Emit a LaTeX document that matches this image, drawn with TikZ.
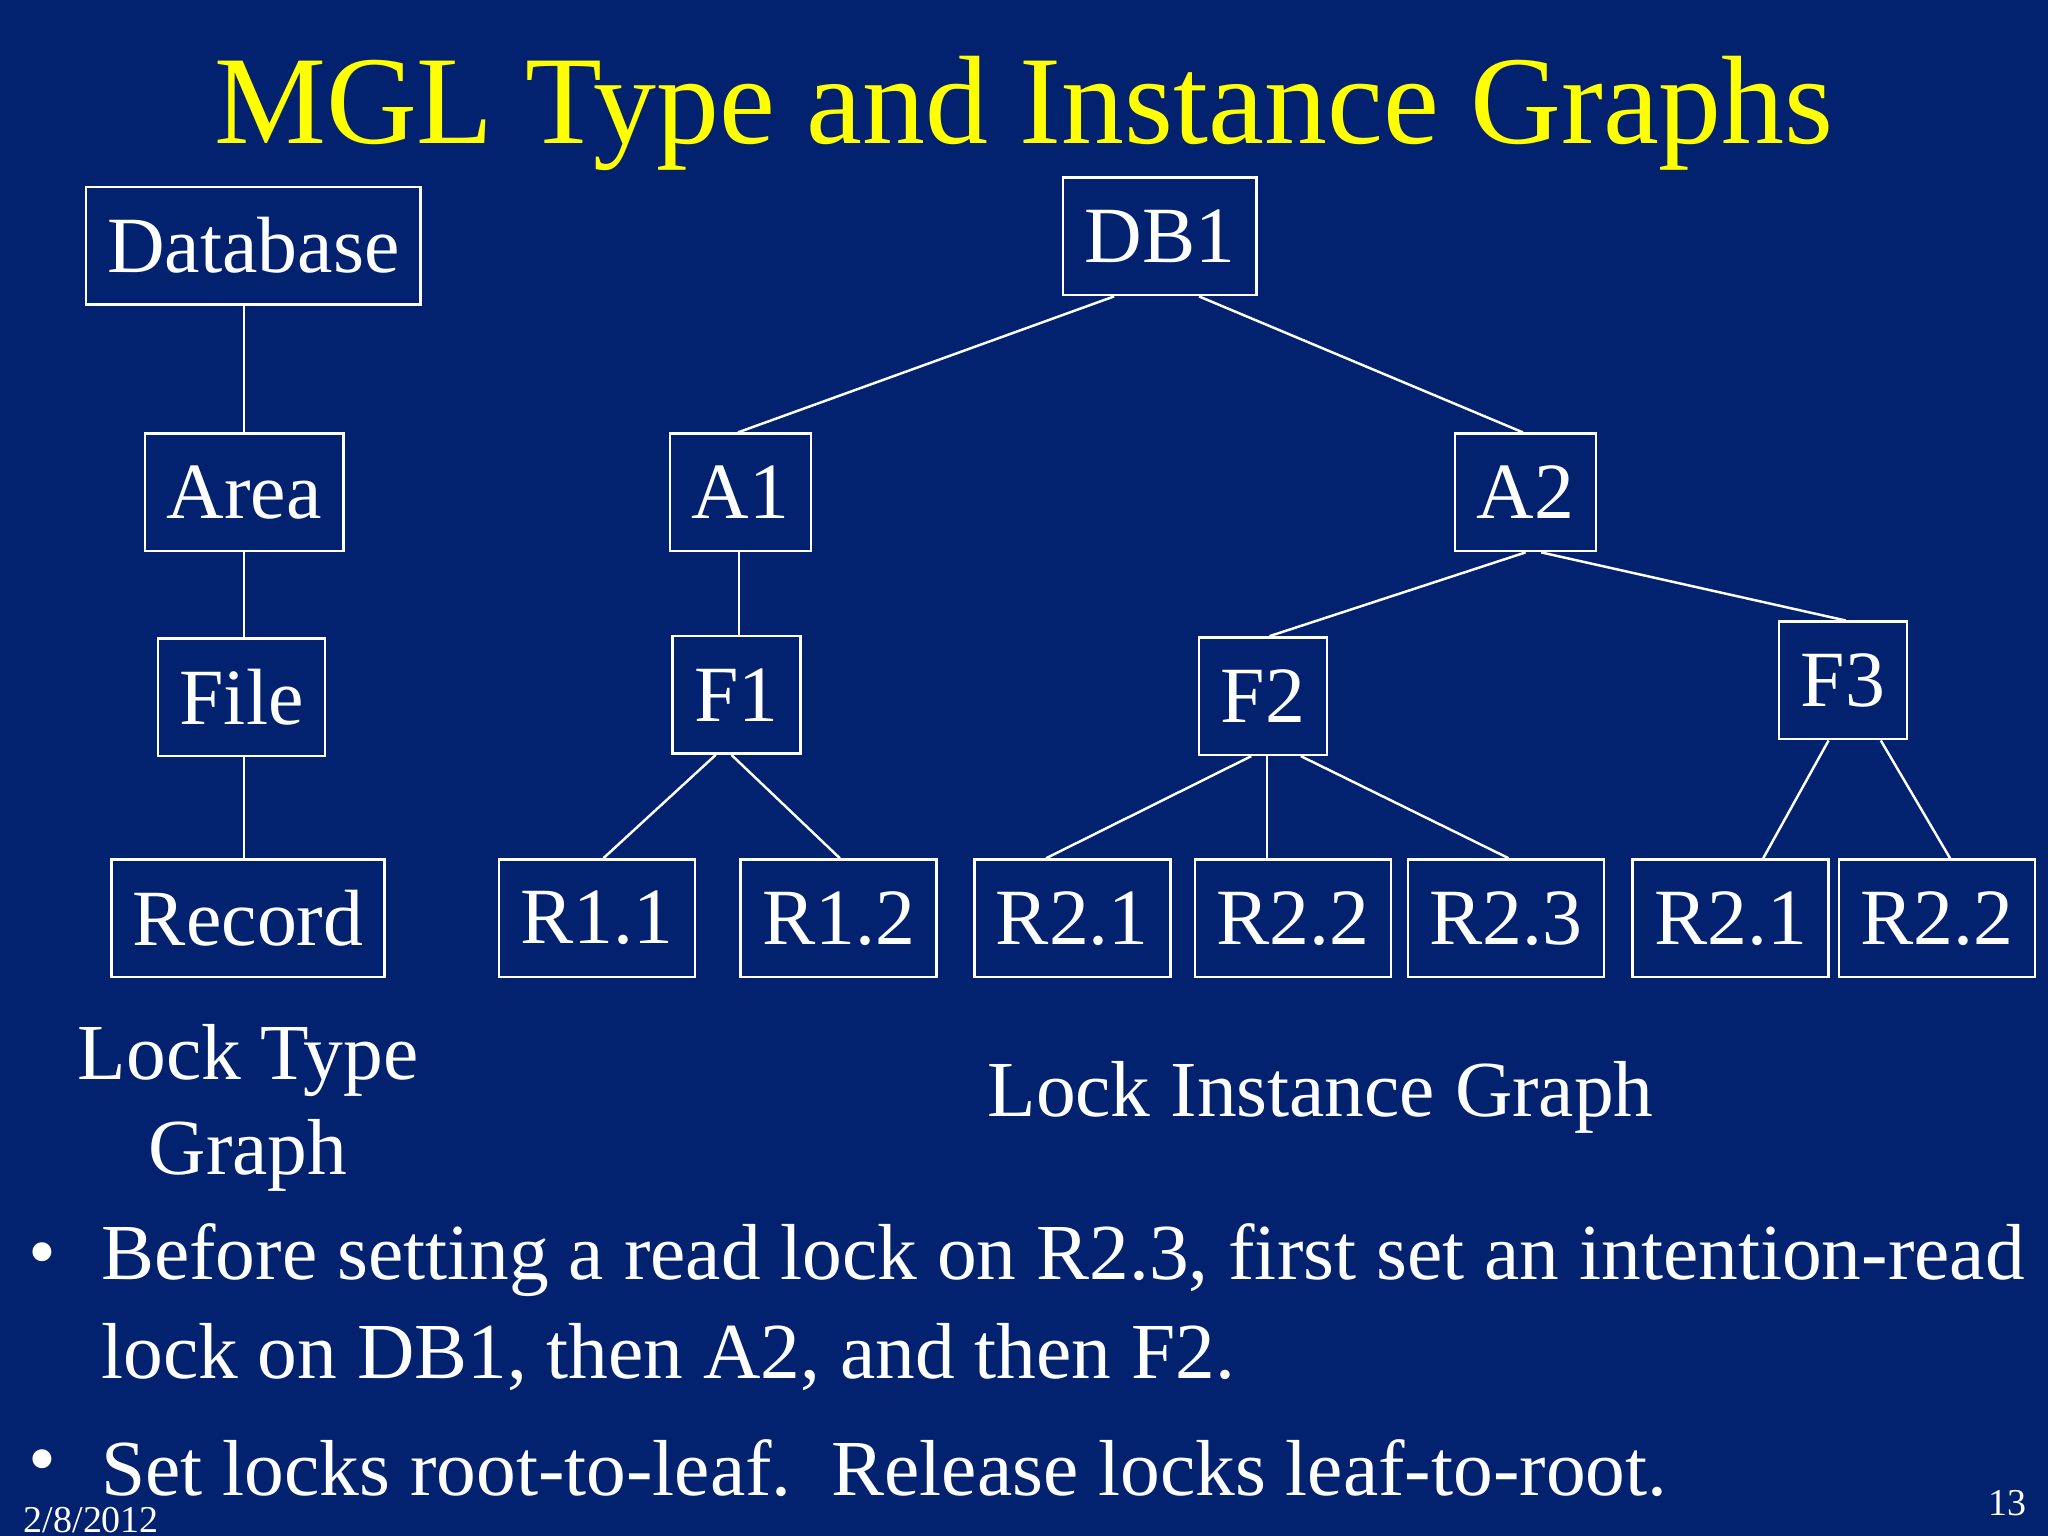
\documentclass[tikz,border=0pt]{standalone}
\usepackage{fontspec}
\setmainfont{Liberation Serif}
\usetikzlibrary{calc}
\definecolor{bg}{RGB}{2,34,112}
\begin{document}
\begin{tikzpicture}[x=0.0130612cm,y=-0.0130612cm,
  box/.style={draw=white,line width=0.7pt,text=white,minimum height=90*0.0130612cm,inner sep=0pt,font=\fontsize{22.7}{27}\selectfont},
  ln/.style={draw=white,line width=0.7pt},
  txt/.style={text=white,font=\fontsize{22.6}{27}\selectfont}]
\fill[bg] (0,0) rectangle (1568,1176);
\useasboundingbox (0,0) rectangle (1568,1176);
\node[text={rgb,255:red,255;green,255;blue,0},font=\fontsize{35.8}{42}\selectfont] (title) at (784,87) {MGL Type and Instance Graphs};
% type graph
\node[box,minimum width=256*0.0130612cm] (db) at (194,188) {Database};
\node[box,minimum width=152*0.0130612cm] (area) at (187,377) {Area};
\node[box,minimum width=128*0.0130612cm] (file) at (185,534) {File};
\node[box,minimum width=209*0.0130612cm] (rec) at (190,703) {Record};
\draw[ln] (db.south -| area.south) -- (area.south |- area.north);
\draw[ln] (area.south) -- (area.south |- file.north);
\draw[ln] (area.south |- file.south) -- (area.south |- rec.north);
% instance graph
\node[box,minimum width=148*0.0130612cm] (db1) at (888,181) {DB1};
\node[box,minimum width=108*0.0130612cm] (a1) at (567,377) {A1};
\node[box,minimum width=108*0.0130612cm] (a2) at (1168,377) {A2};
\node[box,minimum width=98*0.0130612cm] (f1) at (564,532) {F1};
\node[box,minimum width=98*0.0130612cm] (f2) at (967,533) {F2};
\node[box,minimum width=98*0.0130612cm] (f3) at (1411,521) {F3};
\foreach \n/\x/\t in {r11/457/R1.1, r12/642/R1.2, r21/821/R2.1, r22/990/R2.2, r23/1153/R2.3, r21b/1325/R2.1, r22b/1483/R2.2}
  \node[box,minimum width=150*0.0130612cm] (\n) at (\x,703) {\t};
\draw[ln] ($(db1.south)+(-35,0)$) -- ($(a1.north)+(-2,0)$);
\draw[ln] ($(db1.south)+(30,0)$) -- ($(a2.north)+(-2,0)$);
\draw[ln] ($(a1.south)+(-1,0)$) -- ($(f1.north)+(2,0)$);
\draw[ln] (a2.south) -- ($(f2.north)+(5,0)$);
\draw[ln] ($(a2.south)+(12,0)$) -- ($(f3.north)+(2,0)$);
\draw[ln] ($(f1.south)+(-16,0)$) -- ($(r11.north)+(5,0)$);
\draw[ln] ($(f1.south)+(-4,0)$) -- ($(r12.north)+(1,0)$);
\draw[ln] ($(f2.south)+(-9,0)$) -- ($(r21.north)+(-20,0)$);
\draw[ln] ($(f2.south)+(3,0)$) -- ($(r22.north)+(-20,0)$);
\draw[ln] ($(f2.south)+(29,0)$) -- ($(r23.north)+(2,0)$);
\draw[ln] ($(f3.south)+(-11,0)$) -- ($(r21b.north)+(25,0)$);
\draw[ln] ($(f3.south)+(29,0)$) -- ($(r22b.north)+(10,0)$);
% labels
\node[txt,align=center] (lt) at (190,848) {Lock Type\\Graph};
\node[txt] (li) at (1011,840) {Lock Instance Graph};
\node[txt,anchor=west] (b1) at (12,965) {•};
\node[txt,anchor=west] (t1) at (68,965) {Before setting a read lock on R2.3, first set an intention-read};
\node[txt,anchor=west] (t2) at (68,1039) {lock on DB1, then A2, and then F2.};
\node[txt,anchor=west] (b2) at (12,1124) {•};
\node[txt,anchor=west] (t3) at (68,1124) {Set locks root-to-leaf.\ \ Release locks leaf-to-root.};
\node[text=white,font=\fontsize{10.8}{12}\selectfont] (date) at (70,1164) {2/8/2012};
\node[text=white,font=\fontsize{10.8}{12}\selectfont] (pg) at (1537,1151) {13};
\end{tikzpicture}
\end{document}
